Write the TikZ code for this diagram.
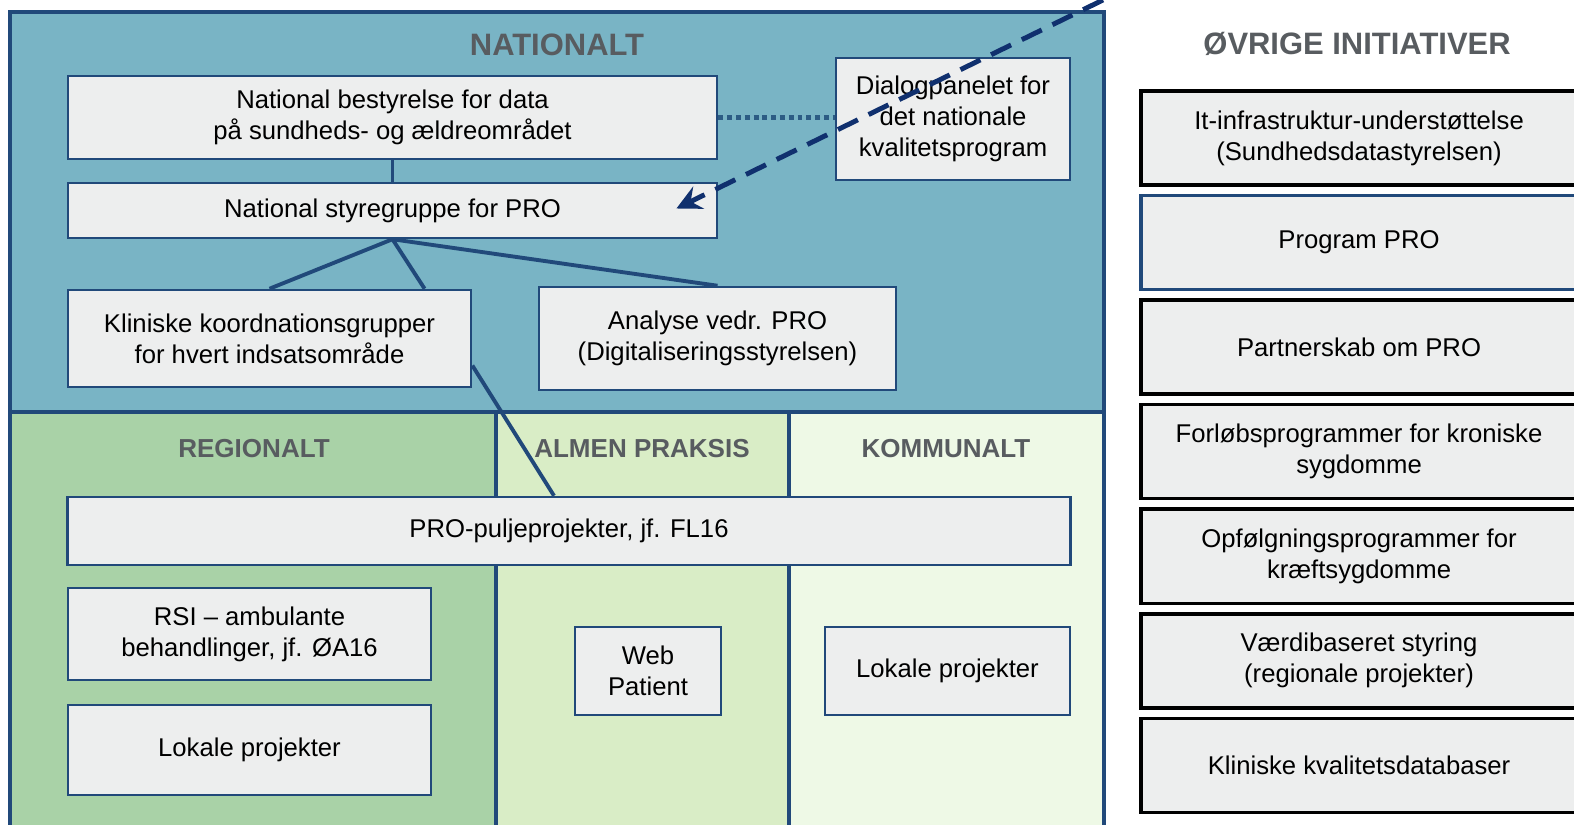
\documentclass[tikz,border=0pt]{standalone}
\usepackage{fontspec}
\setmainfont{Liberation Sans}
\usetikzlibrary{positioning,arrows.meta}

\definecolor{natblue}{HTML}{79B4C5}
\definecolor{regfill}{HTML}{A9D2A7}
\definecolor{almfill}{HTML}{D9EDC6}
\definecolor{komfill}{HTML}{EEF9E6}
\definecolor{framecol}{HTML}{21497A}
\definecolor{boxfill}{HTML}{EDEEEE}
\definecolor{headgray}{HTML}{585C60}
\definecolor{dotcol}{HTML}{2C5C84}
\definecolor{navy}{HTML}{10306E}

\tikzset{
  orgbox/.style={draw=framecol,fill=boxfill,line width=0.7pt,align=center,
    inner sep=0pt,font=\fontsize{7.3}{8.8}\selectfont},
  initbox/.style={orgbox,draw=black,line width=1pt,
    minimum width=4.36cm,minimum height=0.94cm},
  header/.style={font=\bfseries\fontsize{8.8}{10}\selectfont,text=headgray},
  subheader/.style={header,font=\bfseries\fontsize{7.4}{9}\selectfont},
  link/.style={draw=framecol,line width=1.1pt},
}

\begin{document}
\begin{tikzpicture}[x=0.01cm,y=-0.01cm,node distance=1.045cm,on grid]
\useasboundingbox (0,0) rectangle (1574,825);
\clip (0,0) rectangle (1574,825);

% omraader
\fill[natblue] (10,12) rectangle (1104,412);
\fill[regfill] (10,412) rectangle (496,830);
\fill[almfill] (496,412) rectangle (789,830);
\fill[komfill] (789,412) rectangle (1104,830);
\draw[framecol,line width=0.9pt] (10,830) -- (10,12) -- (1104,12) -- (1104,830);
\draw[framecol,line width=0.9pt] (10,412) -- (1104,412)
  (496,412) -- (496,830) (789,412) -- (789,830);

\node[header] (natlabel) at (557,45) {NATIONALT};
\node[subheader] (reglabel) at (254,449) {REGIONALT};
\node[subheader] (almlabel) at (642,449) {ALMEN PRAKSIS};
\node[subheader] (komlabel) at (946,449) {KOMMUNALT};
\node[header] (ovrlabel) at (1357,44) {ØVRIGE INITIATIVER};

% nationalt
\node[orgbox,minimum width=6.49cm,minimum height=0.83cm] (best) at (392.5,117.5)
  {National bestyrelse for data\\på sundheds- og ældreområdet};
\node[orgbox,minimum width=6.49cm,minimum height=0.55cm] (styre) at (392.5,210.5)
  {National styregruppe for PRO};
\node[orgbox,minimum width=2.34cm,minimum height=1.22cm] (dialog) at (953,119)
  {Dialogpanelet for\\det nationale\\kvalitetsprogram};
\node[orgbox,minimum width=4.03cm,minimum height=0.97cm] (klin) at (269.5,338.5)
  {Kliniske koordnationsgrupper\\for hvert indsatsområde};
\node[orgbox,minimum width=3.57cm,minimum height=1.03cm] (analyse) at (717.5,338.5)
  {Analyse vedr. PRO\\(Digitaliseringsstyrelsen)};

% regionalt, almen praksis, kommunalt
\node[orgbox,minimum width=10.02cm,minimum height=0.68cm] (pulje) at (569,531)
  {PRO-puljeprojekter, jf. FL16};
\node[orgbox,minimum width=3.63cm,minimum height=0.92cm] (rsi) at (249.5,634)
  {RSI -- ambulante\\behandlinger, jf. ØA16};
\node[orgbox,minimum width=3.63cm,minimum height=0.90cm] (lokreg) at (249.5,750)
  {Lokale projekter};
\node[orgbox,minimum width=1.46cm,minimum height=0.88cm] (web) at (648,671)
  {Web\\Patient};
\node[orgbox,minimum width=2.45cm,minimum height=0.88cm] (lokkom) at (947.5,671)
  {Lokale projekter};

% oevrige initiativer
\node[initbox] (infra) at (1359,138)
  {It-infrastruktur-understøttelse\\(Sundhedsdatastyrelsen)};
\node[initbox,draw=framecol] (progpro) [below=of infra] {Program PRO};
\node[initbox] (partner) [below=of progpro] {Partnerskab om PRO};
\node[initbox] (forloeb) [below=of partner] {Forløbsprogrammer for kroniske\\sygdomme};
\node[initbox] (opfoelg) [below=of forloeb] {Opfølgningsprogrammer for\\kræftsygdomme};
\node[initbox] (vaerdi) [below=of opfoelg] {Værdibaseret styring\\(regionale projekter)};
\node[initbox] (kkd) [below=of vaerdi] {Kliniske kvalitetsdatabaser};

% forbindelser
\path[link]
  (best) edge (styre)
  (styre.south) edge (klin.north)
  (styre.south) edge ([xshift=1.55cm]klin.north)
  (styre.south) edge (analyse.north)
  ([yshift=-0.27cm]klin.east) edge ([xshift=-0.15cm]pulje.north);
\draw[dotcol,line width=1.4pt,dash pattern=on 1.4pt off 1.1pt]
  (best.east) -- (best.east -| dialog.west);
\coordinate (dtop) at (1103,0);
\draw[navy,line width=1.4pt,dash pattern=on 6.3pt off 3.4pt,
  -{Stealth[length=7pt,width=7pt,inset=2.5pt]}]
  (dtop) -- ([xshift=-0.42cm,yshift=0.02cm]styre.east);
\end{tikzpicture}
\end{document}
